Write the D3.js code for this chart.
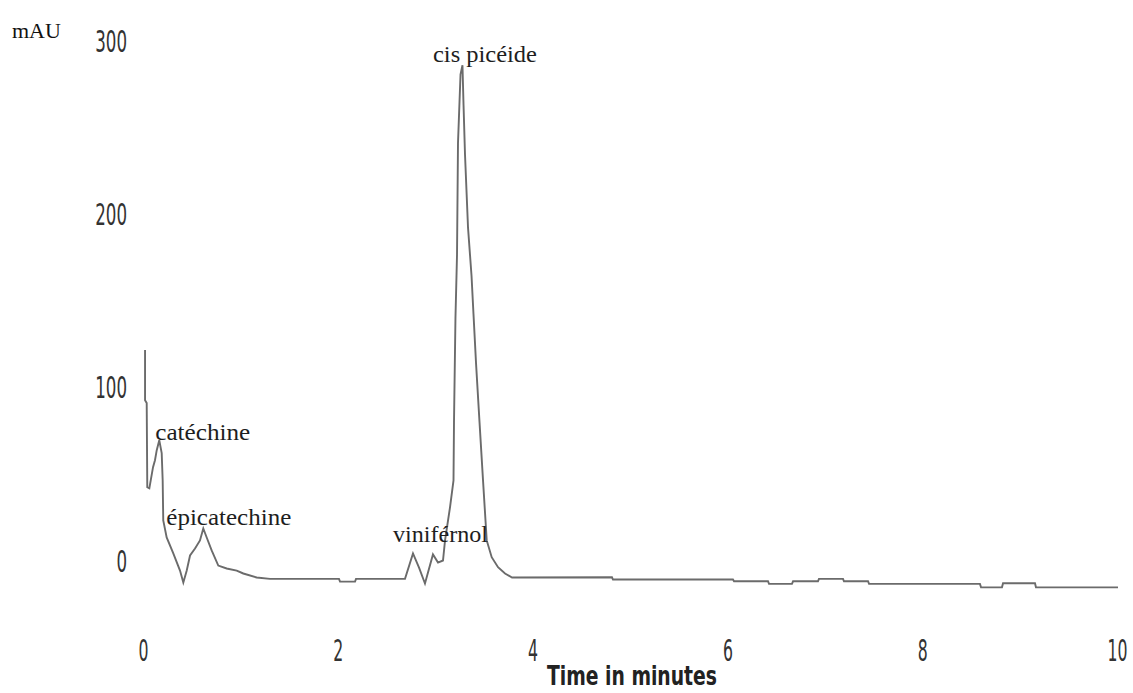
<!DOCTYPE html>
<html>
<head>
<meta charset="utf-8">
<script src="https://cdn.jsdelivr.net/npm/d3@7"></script>
<style>
  html, body { margin: 0; padding: 0; background: #fff; }
  svg { display: block; }
</style>
</head>
<body>
<svg id="chart" width="1133" height="693"></svg>
<script>
// Chromatogram trace: retention time (min) and detector response (mAU)
const timeMin = [
  0.021, 0.021, 0.038, 0.044, 0.065, 0.103, 0.123, 0.141, 0.167, 0.192,
  0.202, 0.208, 0.243, 0.311, 0.380, 0.414, 0.449, 0.483, 0.534, 0.585,
  0.619, 0.654, 0.705, 0.773, 0.859, 0.962, 1.030, 1.167, 1.304, 2.012,
  2.023, 2.177, 2.187, 2.690, 2.772, 2.834, 2.895, 2.977, 3.029, 3.080,
  3.101, 3.152, 3.188, 3.193, 3.208, 3.224, 3.234, 3.260, 3.280, 3.291,
  3.306, 3.337, 3.373, 3.393, 3.419, 3.455, 3.491, 3.529, 3.580, 3.645,
  3.717, 3.789, 4.815, 4.825, 6.057, 6.068, 6.417, 6.427, 6.663, 6.674,
  6.930, 6.940, 7.187, 7.197, 7.444, 7.454, 8.593, 8.604, 8.819, 8.830,
  9.158, 9.168, 10.010
];
const absorbance = [
  121.6, 92.6, 90.9, 42.3, 41.7, 53.9, 57.9, 63.7, 69.5, 62.0,
  46.3, 23.2, 13.3, 4.1, -5.8, -12.7, -5.8, 2.9, 6.9, 11.6,
  18.5, 13.3, 5.8, -2.9, -4.6, -5.8, -7.5, -9.8, -10.6, -10.6,
  -12.2, -12.2, -10.6, -10.6, 4.1, -4.1, -13.3, 3.5, -1.2, 0,
  11.6, 30.7, 46.3, 79.9, 140.1, 176.6, 240.9, 280.8, 286, 262.9,
  234.5, 192.2, 164.4, 142.4, 114.1, 79.9, 46.3, 11.6, 1.9, -3.9,
  -7.5, -9.8, -9.7, -11.0, -11.0, -12.0, -12.0, -13.5, -13.5, -12.0,
  -12.0, -10.6, -10.6, -12.0, -12.0, -13.5, -13.5, -15.5, -15.5, -13.1,
  -13.1, -15.5, -15.5
];

// Identified compounds and their retention times (min)
const peakNames = ["catéchine", "épicatechine", "viniférnol", "cis picéide"];
const peakTimes = [0.167, 0.619, 2.772, 3.280];

// Axis ticks
const xTicks = [0, 2, 4, 6, 8, 10];
const yTicks = [0, 100, 200, 300];

const svg = d3.select("#chart");
const W = 1133, H = 693;
const margin = { left: 143, right: 16, top: 41, bottom: 132.5 };

const x = d3.scaleLinear().domain([0, 10]).range([margin.left, W - margin.right]);
const y = d3.scaleLinear().domain([0, 300]).range([H - margin.bottom, margin.top]);

const narrow = '"Liberation Sans Narrow", "Arial Narrow", "DejaVu Sans Condensed", sans-serif';
const serif = '"Liberation Serif", "Times New Roman", serif';

// Left axis: labels only, tall condensed digits
const gy = svg.append("g")
  .attr("transform", `translate(${margin.left},0)`)
  .call(d3.axisLeft(y).tickValues(yTicks).tickSize(0).tickPadding(16).tickFormat(d3.format("d")));
gy.select(".domain").remove();
gy.selectAll(".tick text")
  .attr("font-family", narrow)
  .attr("font-size", 21)
  .attr("fill", "#333")
  .attr("y", 0)
  .attr("dy", null)
  .attr("textLength", d => String(d).length * 10.6)
  .attr("lengthAdjust", "spacingAndGlyphs")
  .attr("transform", "translate(0,10.5) scale(1,1.4)");

// Bottom axis: labels only
const gx = svg.append("g")
  .attr("transform", `translate(0,${y(0)})`)
  .call(d3.axisBottom(x).tickValues(xTicks).tickSize(0).tickFormat(d3.format("d")));
gx.select(".domain").remove();
gx.selectAll(".tick text")
  .attr("font-family", narrow)
  .attr("font-size", 21)
  .attr("fill", "#333")
  .attr("y", 0)
  .attr("dy", null)
  .attr("textLength", d => String(d).length * 10)
  .attr("lengthAdjust", "spacingAndGlyphs")
  .attr("transform", "translate(0,100.5) scale(1,1.4)");

// Axis titles
svg.append("text")
  .attr("x", 12)
  .attr("y", 38)
  .attr("font-family", serif)
  .attr("font-size", 22)
  .attr("fill", "#111")
  .text("mAU");

// X title: size the font so its natural width is 170px, then stretch vertically
const xTitle = svg.append("text")
  .attr("text-anchor", "middle")
  .attr("font-family", narrow)
  .attr("font-weight", "bold")
  .attr("font-size", 24)
  .attr("fill", "#222")
  .text("Time in minutes");
const natural = xTitle.node().getComputedTextLength();
const fs = 24 * 170 / natural;
const stretch = Math.min(1.8, (24 * 1.1) / fs);
xTitle
  .attr("font-size", fs)
  .attr("transform", `translate(${(547 + 717) / 2},${y(0) + 124.5}) scale(1,${stretch})`);

// Trace
const trace = timeMin.map((t, i) => ({ t, v: absorbance[i] }));
const line = d3.line().x(d => x(d.t)).y(d => y(d.v));
svg.append("path")
  .datum(trace)
  .attr("fill", "none")
  .attr("stroke", "#6b6b6b")
  .attr("stroke-width", 1.9)
  .attr("stroke-linejoin", "miter")
  .attr("d", line);

// Peak labels, placed beside the apex of each peak
const labelLayout = [
  { dx: -4,    dy: 0,   len: 95 },
  { dx: -37,   dy: -3,  len: 125 },
  { dx: -20,   dy: -11, len: 95 },
  { dx: -29.5, dy: -3,  len: 104 }
];
peakNames.forEach((name, i) => {
  const rt = peakTimes[i];
  const near = trace.filter(d => Math.abs(d.t - rt) < 0.03);
  const apex = d3.max(near, d => d.v);
  const L = labelLayout[i];
  svg.append("text")
    .attr("x", x(rt) + L.dx)
    .attr("y", y(apex) + L.dy)
    .attr("font-family", serif)
    .attr("font-size", 24)
    .attr("fill", "#1e1e1e")
    .attr("textLength", L.len)
    .attr("lengthAdjust", "spacingAndGlyphs")
    .text(name);
});
</script>
</body>
</html>
